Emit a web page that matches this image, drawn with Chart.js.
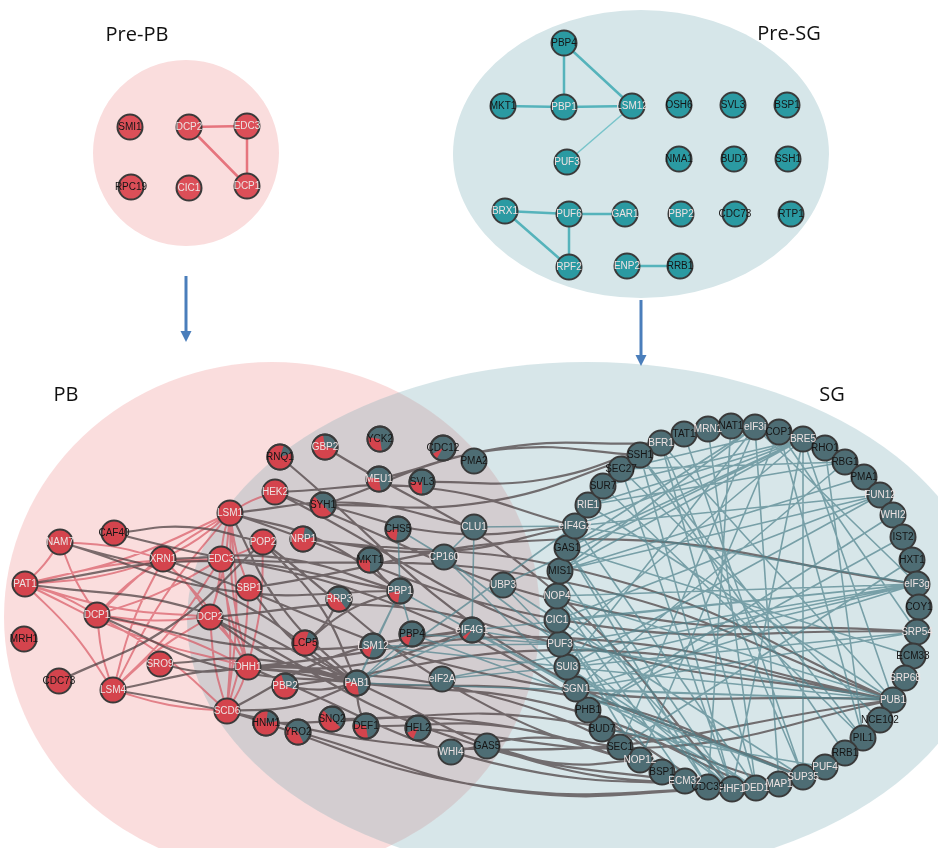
<!DOCTYPE html>
<html>
<head>
<meta charset="utf-8">
<title>P-body and stress granule interaction networks</title>
<script src="https://cdn.jsdelivr.net/npm/chart.js@4.4.1/dist/chart.umd.min.js"></script>
<style>
  html, body { margin: 0; padding: 0; background: #ffffff; }
  #wrap { width: 938px; height: 848px; position: relative; }
</style>
</head>
<body>
<div id="wrap"><canvas id="net"></canvas></div>
<script>
// ---------- Regions (compartments) ----------
const regionNames = ['Pre-PB', 'Pre-SG', 'PB', 'SG'];
const regionCx = [186, 641, 272, 587];
const regionCy = [153, 154, 617, 620];
const regionRx = [93, 188, 268, 400];
const regionRy = [93, 144, 255, 258];
const titleX = [137, 789, 66, 832];
const titleY = [35, 34, 395, 395];

// transition arrows (Pre-PB -> PB, Pre-SG -> SG)
const arrowX = [186, 641];
const arrowFrom = [276, 300];
const arrowTo = [342, 366];

// ---------- Pre-PB network ----------
const prePbNames = ['SMI1', 'DCP2', 'EDC3', 'RPC19', 'CIC1', 'DCP1'];
const prePbX = [130, 189, 247, 131, 189, 247];
const prePbY = [127, 127, 126, 187, 188, 186];
const prePbEdges = [['DCP2', 'EDC3'], ['DCP2', 'DCP1'], ['EDC3', 'DCP1']];

// ---------- Pre-SG network ----------
const preSgNames = ['PBP4', 'MKT1', 'PBP1', 'LSM12', 'OSH6', 'SVL3', 'BSP1', 'PUF3', 'NMA1', 'BUD7',
                    'SSH1', 'BRX1', 'PUF6', 'GAR1', 'PBP2', 'CDC73', 'RTP1', 'RPF2', 'ENP2', 'RRB1'];
const preSgX = [564, 503, 564, 632, 679, 733, 787, 567, 679, 734, 788, 505, 569, 625, 681, 735, 791, 569, 627, 680];
const preSgY = [43, 106, 107, 106, 105, 105, 105, 162, 159, 159, 159, 211, 214, 214, 214, 214, 214, 267, 266, 266];
const preSgEdges = [['PBP4', 'PBP1'], ['PBP4', 'LSM12'], ['MKT1', 'PBP1'], ['PBP1', 'LSM12'],
                    ['BRX1', 'PUF6'], ['BRX1', 'RPF2'], ['PUF6', 'GAR1'], ['PUF6', 'RPF2'], ['ENP2', 'RRB1']];
const preSgWeakEdges = [['LSM12', 'PUF3']];

// ---------- PB / SG network ----------
// P-body only proteins
const pbNames = ['LSM1', 'CAF40', 'NAM7', 'XRN1', 'EDC3', 'PAT1', 'SBP1', 'DCP1', 'DCP2', 'MRH1',
                 'SRO9', 'DHH1', 'CDC73', 'LSM4', 'SCD6', 'HEK2', 'POP2'];
const pbX = [230, 114, 60, 163, 221, 25, 249, 97, 210, 24, 160, 248, 59, 113, 227, 275, 263];
const pbY = [513, 533, 542, 559, 559, 584, 588, 615, 617, 639, 664, 667, 681, 690, 711, 492, 542];

// proteins found in both, with the share of PB evidence
const mixNames = ['RNQ1', 'GBP2', 'YCK2', 'CDC12', 'MEU1', 'SVL3', 'SYH1', 'NRP1', 'CHS5', 'MKT1', 'PBP1', 'RRP3',
                  'LCP5', 'LSM12', 'PBP4', 'PAB1', 'PBP2', 'HNM1', 'YRO2', 'SNQ2', 'DEF1', 'HEL2', 'eIF4G1'];
const mixX = [280, 325, 380, 443, 379, 422, 323, 303, 398, 370, 400, 339, 305, 373, 412, 357, 285, 266, 298, 332, 366, 418, 472];
const mixY = [457, 447, 439, 448, 479, 482, 505, 539, 529, 560, 591, 599, 643, 646, 634, 683, 686, 723, 732, 719, 726, 728, 630];
const mixPbShare = [0.85, 0.7, 0.3, 0.08, 0.3, 0.25, 0.5, 0.8, 0.2, 0.25, 0.2, 0.45,
                    0.85, 0.15, 0.15, 0.3, 0.65, 0.8, 0.4, 0.5, 0.3, 0.12, 0.05];

// SG proteins placed inside the overlap
const midNames = ['PMA2', 'CLU1', 'CP160', 'UBP3', 'eIF2A', 'WHI4', 'GAS5'];
const midX = [474, 474, 444, 503, 442, 451, 487];
const midY = [461, 527, 557, 585, 679, 752, 746];

// SG only proteins on the ring
const ringNames = ['BFR1', 'TAT1', 'MRN1', 'NAT1', 'eIF3i', 'COP1', 'BRE5', 'RHO1', 'RBG1', 'PMA1',
                   'FUN12', 'WHI2', 'IST2', 'HXT1', 'eIF3g', 'COY1', 'SRP54', 'ECM33', 'SRP68', 'PUB1',
                   'NCE102', 'PIL1', 'RRB1', 'PUF4', 'SUP35', 'MAP1', 'DED1', 'HHF1', 'CDC39', 'ECM32',
                   'BSP1', 'NOP12', 'SEC1', 'BUD7', 'PHB1', 'SGN1', 'SUI3', 'PUF3', 'CIC1', 'NOP4',
                   'MIS1', 'GAS1', 'eIF4G2', 'RIE1', 'SUR7', 'SEC27', 'SSH1'];
const ringX = [661, 684, 708, 731, 755, 779, 803, 825, 845, 864, 880, 893, 903, 912, 917, 919, 917, 913, 905, 893,
               880, 863, 845, 825, 803, 779, 756, 732, 708, 685, 662, 640, 620, 602, 588, 576, 567, 560, 557, 557,
               560, 567, 575, 588, 603, 621, 640];
const ringY = [443, 434, 429, 426, 427, 432, 439, 448, 462, 477, 495, 515, 537, 560, 584, 607, 632, 656, 678, 700,
               720, 738, 753, 767, 777, 784, 788, 789, 787, 781, 772, 760, 747, 729, 710, 689, 667, 644, 620, 596,
               571, 548, 526, 505, 486, 469, 455];

// interactions among P-body proteins
const pbEdges = [
  ['NAM7', 'PAT1'], ['NAM7', 'DCP1'], ['NAM7', 'XRN1'],
  ['PAT1', 'XRN1'], ['PAT1', 'EDC3'], ['PAT1', 'LSM1'], ['PAT1', 'DCP1'], ['PAT1', 'DCP2'], ['PAT1', 'LSM4'], ['PAT1', 'DHH1'],
  ['DCP1', 'XRN1'], ['DCP1', 'EDC3'], ['DCP1', 'LSM1'], ['DCP1', 'DCP2'], ['DCP1', 'DHH1'], ['DCP1', 'LSM4'], ['DCP1', 'SCD6'],
  ['XRN1', 'LSM1'], ['XRN1', 'DCP2'], ['XRN1', 'LSM4'], ['XRN1', 'DHH1'], ['XRN1', 'EDC3'],
  ['LSM4', 'LSM1'], ['LSM4', 'EDC3'], ['LSM4', 'DCP2'], ['LSM4', 'SCD6'],
  ['LSM1', 'DCP2'], ['LSM1', 'DHH1'], ['LSM1', 'SCD6'], ['LSM1', 'EDC3'], ['LSM1', 'HEK2'], ['LSM1', 'SBP1'],
  ['EDC3', 'DCP2'], ['EDC3', 'DHH1'], ['EDC3', 'SCD6'], ['EDC3', 'POP2'],
  ['DCP2', 'DHH1'], ['DCP2', 'SCD6'], ['DHH1', 'SCD6'], ['DHH1', 'POP2'], ['SBP1', 'SCD6']
];

// interactions crossing from P-body proteins
const crossEdges = [
  ['CAF40', 'POP2'], ['CDC73', 'POP2'], ['NAM7', 'PAB1'], ['NAM7', 'PBP1'], ['PAT1', 'PAB1'], ['DCP1', 'PAB1'],
  ['LSM4', 'PAB1'], ['LSM4', 'PUB1'], ['SRO9', 'PAB1'], ['SRO9', 'DHH1'], ['DHH1', 'PAB1'], ['DHH1', 'eIF4G1'],
  ['DHH1', 'PUB1'], ['DHH1', 'DED1'], ['DHH1', 'CDC39'], ['SCD6', 'PAB1'], ['SCD6', 'eIF4G1'], ['SCD6', 'DED1'],
  ['LSM1', 'PBP1'], ['LSM1', 'PAB1'], ['LSM1', 'CLU1'], ['LSM1', 'SRP54'], ['HEK2', 'eIF4G2'], ['HEK2', 'PUB1'],
  ['SYH1', 'BFR1'], ['SYH1', 'SSH1'], ['POP2', 'PAB1'], ['POP2', 'CDC39'], ['CAF40', 'CDC39'], ['NRP1', 'eIF4G2'],
  ['XRN1', 'PBP1'], ['XRN1', 'PUB1'], ['DCP2', 'PUF3'], ['DCP2', 'HHF1'], ['EDC3', 'PUB1'], ['SBP1', 'PAB1'],
  ['SBP1', 'eIF3g'], ['DCP1', 'eIF4G1'], ['PAT1', 'PBP1'], ['DCP2', 'PAB1'], ['RRP3', 'LCP5'], ['SVL3', 'BFR1'],
  ['MEU1', 'SSH1'], ['PBP2', 'PAB1'], ['PBP2', 'PUB1'], ['PAB1', 'DEF1'], ['SNQ2', 'MAP1'], ['YRO2', 'HHF1'],
  ['HNM1', 'CDC39'], ['HEL2', 'PUB1'], ['WHI4', 'SEC1'], ['GAS5', 'NOP12'], ['DEF1', 'BSP1'], ['MKT1', 'PBP1'],
  ['NRP1', 'PUB1'], ['SYH1', 'eIF4G2'], ['LCP5', 'PBP1'], ['HEK2', 'SRP54'], ['GBP2', 'HHF1'], ['RNQ1', 'SUP35'],
  ['PAB1', 'SUP35'], ['PAB1', 'HHF1'], ['PAB1', 'DED1']
];

// interactions among stress granule proteins
const sgEdges = [
  ['PBP1', 'LSM12'], ['PBP1', 'PBP4'], ['PBP1', 'PAB1'], ['PBP4', 'PAB1'], ['LSM12', 'PAB1'], ['LSM12', 'PUF3'],
  ['PBP1', 'CHS5'], ['PAB1', 'eIF4G1'], ['PAB1', 'eIF4G2'], ['PAB1', 'PUB1'], ['eIF4G1', 'DED1'], ['eIF4G1', 'eIF3g'],
  ['eIF4G1', 'PUB1'], ['eIF4G1', 'CLU1'], ['eIF2A', 'SUI3'], ['eIF2A', 'eIF3g'], ['CP160', 'PUF3'], ['CP160', 'SGN1'],
  ['CLU1', 'eIF4G2'], ['CLU1', 'CP160'], ['UBP3', 'BRE5'], ['UBP3', 'PUF3'], ['UBP3', 'SUP35'], ['CHS5', 'CP160'],
  ['PBP4', 'SUP35'], ['PBP1', 'SGN1'], ['PBP4', 'PUF3'], ['LSM12', 'SUI3'],
  ['eIF3g', 'eIF4G2'], ['eIF3g', 'PUF3'], ['eIF3g', 'SUI3'], ['eIF3g', 'CIC1'], ['eIF3g', 'NOP4'], ['eIF3g', 'eIF3i'],
  ['eIF3g', 'FUN12'], ['eIF3g', 'SGN1'],
  ['PUB1', 'SGN1'], ['PUB1', 'PUF3'], ['PUB1', 'SUI3'], ['PUB1', 'BFR1'], ['PUB1', 'RIE1'], ['PUB1', 'NOP4'], ['PUB1', 'BRE5'],
  ['BRE5', 'RIE1'], ['BRE5', 'SUR7'], ['BRE5', 'eIF4G2'], ['BRE5', 'GAS1'], ['BRE5', 'MIS1'], ['BRE5', 'PUF3'],
  ['BRE5', 'HHF1'], ['BRE5', 'SUP35'],
  ['eIF3i', 'SUI3'], ['eIF3i', 'GAS1'], ['eIF3i', 'MIS1'], ['eIF3i', 'MAP1'], ['eIF3i', 'SEC1'],
  ['COP1', 'SEC27'], ['COP1', 'PIL1'], ['COP1', 'SRP54'], ['COP1', 'NOP12'],
  ['RBG1', 'SEC27'], ['RBG1', 'RIE1'], ['RBG1', 'SGN1'],
  ['FUN12', 'SUI3'], ['FUN12', 'eIF4G2'], ['FUN12', 'MIS1'], ['FUN12', 'CIC1'],
  ['HHF1', 'GAS1'], ['HHF1', 'NOP4'], ['HHF1', 'SSH1'], ['HHF1', 'SEC27'], ['HHF1', 'PUF3'], ['HHF1', 'SUI3'],
  ['DED1', 'eIF4G2'], ['DED1', 'SUI3'], ['DED1', 'BFR1'], ['SUP35', 'SGN1'], ['SUP35', 'BFR1'],
  ['SRP54', 'SUI3'], ['SRP54', 'SGN1'], ['PIL1', 'SUR7'], ['PIL1', 'SSH1'], ['NCE102', 'SEC27'], ['RRB1', 'SSH1'],
  ['ECM33', 'GAS1'], ['WHI2', 'PHB1'], ['NAT1', 'CDC39'], ['PMA1', 'MIS1'], ['PUF4', 'BUD7'], ['CDC39', 'MIS1'],
  ['CDC39', 'GAS1'], ['ECM32', 'NOP4'], ['BSP1', 'CIC1'], ['TAT1', 'SUP35'], ['MRN1', 'DED1'], ['COY1', 'SRP68'],
  ['HXT1', 'SEC1'], ['IST2', 'PHB1'], ['RHO1', 'PIL1'], ['NOP12', 'CIC1']
];

// nodes whose labels are printed in black
const darkLabels = ['SMI1', 'RPC19', 'PBP4', 'MKT1', 'OSH6', 'SVL3', 'BSP1', 'NMA1', 'BUD7', 'SSH1', 'CDC73', 'RTP1',
  'RRB1', 'CAF40', 'MRH1', 'RNQ1', 'YCK2', 'CDC12', 'SYH1', 'CHS5', 'LCP5', 'HNM1', 'YRO2', 'SNQ2', 'DEF1', 'HEL2',
  'GAS5', 'PMA2', 'TAT1', 'NAT1', 'COP1', 'RHO1', 'RBG1', 'PMA1', 'IST2', 'HXT1', 'SEC27', 'SUR7', 'GAS1', 'MIS1',
  'COY1', 'ECM33', 'NCE102', 'PIL1', 'CDC39', 'SEC1', 'PHB1'];

// ---------- assemble ----------
const RED = '#d4444d';
const PRE_RED = '#dc4f58';
const SG_GREY = '#4e6d74';
const PRE_TEAL = '#2b9aa2';
const NODE_R = 12.5;

const mainNames = [...pbNames, ...mixNames, ...midNames, ...ringNames];
const mainX = [...pbX, ...mixX, ...midX, ...ringX];
const mainY = [...pbY, ...mixY, ...midY, ...ringY];
const mainShare = [...pbNames.map(() => 1), ...mixPbShare, ...midNames.map(() => 0), ...ringNames.map(() => 0)];

// straight edges: endpoint pairs separated by gaps
function edgePoints(edges, names, xs, ys) {
  const at = {};
  names.forEach((n, i) => { at[n] = i; });
  const pts = [];
  edges.forEach(([a, b]) => {
    const i = at[a], j = at[b];
    if (i === undefined || j === undefined) return;
    pts.push({ x: xs[i], y: ys[i] }, { x: xs[j], y: ys[j] }, { x: null, y: null });
  });
  return pts;
}

// bent edges: a through-point pushed sideways so the spline bows gently
function bentPoints(edges, names, xs, ys, bend) {
  const at = {};
  names.forEach((n, i) => { at[n] = i; });
  const pts = [];
  edges.forEach(([a, b], k) => {
    const i = at[a], j = at[b];
    if (i === undefined || j === undefined) return;
    const dx = xs[j] - xs[i], dy = ys[j] - ys[i];
    const s = (k % 2 ? 1 : -1) * bend;
    pts.push({ x: xs[i], y: ys[i] },
             { x: (xs[i] + xs[j]) / 2 - dy * s, y: (ys[i] + ys[j]) / 2 + dx * s },
             { x: xs[j], y: ys[j] }, { x: null, y: null });
  });
  return pts;
}

function edgeSet(points, color, width, tension) {
  return {
    type: 'scatter', data: points, showLine: true, spanGaps: false, tension: tension || 0,
    borderColor: color, borderWidth: width, pointRadius: 0, pointHoverRadius: 0,
    fill: false, order: 10, clip: false
  };
}

function nodeSet(names, xs, ys, shares, full, empty) {
  return {
    type: 'scatter',
    data: names.map((n, i) => ({ x: xs[i], y: ys[i] })),
    pointRadius: NODE_R, pointHoverRadius: NODE_R,
    pointBackgroundColor: shares.map(s => (s >= 1 ? full : empty)),
    pointBorderColor: '#3a3a3a', pointBorderWidth: 2,
    order: 0, clip: false,
    nodeNames: names, nodeShares: shares, fullColor: full
  };
}

const datasets = [
  edgeSet(edgePoints(prePbEdges, prePbNames, prePbX, prePbY), 'rgba(226,98,108,0.85)', 2.5),
  edgeSet(edgePoints(preSgEdges, preSgNames, preSgX, preSgY), 'rgba(78,176,184,0.95)', 2.5),
  edgeSet(edgePoints(preSgWeakEdges, preSgNames, preSgX, preSgY), 'rgba(110,192,198,0.9)', 1.5),
  edgeSet(edgePoints(sgEdges, mainNames, mainX, mainY), 'rgba(82,132,142,0.72)', 1.6),
  edgeSet(bentPoints(crossEdges, mainNames, mainX, mainY, 0.07), 'rgba(74,62,64,0.72)', 2.2, 0.45),
  edgeSet(bentPoints(pbEdges, mainNames, mainX, mainY, 0.04), 'rgba(214,80,92,0.66)', 2, 0.45),
  nodeSet(prePbNames, prePbX, prePbY, prePbNames.map(() => 1), PRE_RED, PRE_RED),
  nodeSet(preSgNames, preSgX, preSgY, preSgNames.map(() => 1), PRE_TEAL, PRE_TEAL),
  nodeSet(mainNames, mainX, mainY, mainShare, RED, SG_GREY)
];

// compartments, titles and arrows behind the network
const backdrop = {
  id: 'backdrop',
  beforeDatasetsDraw(chart) {
    const { ctx, scales: { x, y } } = chart;
    const fills = ['#fadddd', '#d6e6e9', 'rgba(238,128,128,0.27)', 'rgba(118,168,178,0.29)'];
    ctx.save();
    regionNames.forEach((name, i) => {
      const cx = x.getPixelForValue(regionCx[i]);
      const cy = y.getPixelForValue(regionCy[i]);
      const rx = Math.abs(x.getPixelForValue(regionCx[i] + regionRx[i]) - cx);
      const ry = Math.abs(y.getPixelForValue(regionCy[i] + regionRy[i]) - cy);
      ctx.beginPath();
      ctx.ellipse(cx, cy, rx, ry, 0, 0, Math.PI * 2);
      ctx.fillStyle = fills[i];
      ctx.fill();
    });
    ctx.fillStyle = '#111111';
    ctx.font = '20px "Open Sans", "Liberation Sans", sans-serif';
    ctx.textAlign = 'center';
    ctx.textBaseline = 'middle';
    regionNames.forEach((name, i) => {
      ctx.fillText(name, x.getPixelForValue(titleX[i]), y.getPixelForValue(titleY[i]));
    });
    ctx.strokeStyle = '#4a7ebb';
    ctx.fillStyle = '#4a7ebb';
    ctx.lineWidth = 3;
    arrowX.forEach((ax, i) => {
      const px = x.getPixelForValue(ax);
      const y0 = y.getPixelForValue(arrowFrom[i]);
      const y1 = y.getPixelForValue(arrowTo[i]);
      ctx.beginPath();
      ctx.moveTo(px, y0);
      ctx.lineTo(px, y1 - 9);
      ctx.stroke();
      ctx.beginPath();
      ctx.moveTo(px - 5.5, y1 - 11);
      ctx.lineTo(px + 5.5, y1 - 11);
      ctx.lineTo(px, y1);
      ctx.closePath();
      ctx.fill();
    });
    ctx.restore();
  }
};

// pie wedges for shared proteins and node labels
const nodeDecor = {
  id: 'nodeDecor',
  afterDatasetsDraw(chart) {
    const { ctx } = chart;
    ctx.save();
    chart.data.datasets.forEach((ds, di) => {
      if (!ds.nodeNames) return;
      const meta = chart.getDatasetMeta(di);
      meta.data.forEach((pt, i) => {
        const share = ds.nodeShares[i];
        if (share > 0 && share < 1) {
          const span = share * Math.PI * 2;
          const mid = Math.PI * 0.75;
          ctx.beginPath();
          ctx.moveTo(pt.x, pt.y);
          ctx.arc(pt.x, pt.y, NODE_R - 0.5, mid - span / 2, mid + span / 2);
          ctx.closePath();
          ctx.fillStyle = ds.fullColor;
          ctx.fill();
          ctx.beginPath();
          ctx.arc(pt.x, pt.y, NODE_R, 0, Math.PI * 2);
          ctx.lineWidth = 2;
          ctx.strokeStyle = '#3a3a3a';
          ctx.stroke();
        }
      });
      ctx.font = '10px "Liberation Sans", Arial, sans-serif';
      ctx.textAlign = 'center';
      ctx.textBaseline = 'middle';
      meta.data.forEach((pt, i) => {
        const name = ds.nodeNames[i];
        ctx.fillStyle = darkLabels.includes(name) ? '#151515' : '#ece2e2';
        ctx.fillText(name, pt.x, pt.y + 0.5);
      });
    });
    ctx.restore();
  }
};

new Chart(document.getElementById('net'), {
  type: 'scatter',
  data: { datasets },
  options: {
    responsive: true,
    maintainAspectRatio: false,
    animation: false,
    devicePixelRatio: 1,
    events: [],
    layout: { padding: 0, autoPadding: false },
    plugins: { legend: { display: false }, tooltip: { enabled: false } },
    scales: {
      x: { type: 'linear', min: 0, max: 938, display: false },
      y: { type: 'linear', min: 0, max: 848, reverse: true, display: false }
    }
  },
  plugins: [backdrop, nodeDecor]
});
</script>
</body>
</html>
